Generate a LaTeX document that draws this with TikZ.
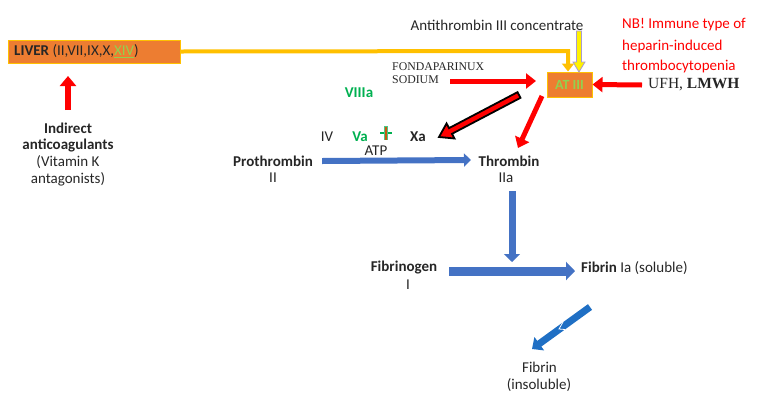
\documentclass[tikz,border=0pt]{standalone}
\usepackage{fontspec}
\setmainfont{Carlito}
\newfontfamily\tms{Liberation Serif}
\usetikzlibrary{arrows.meta,calc}
\definecolor{orng}{HTML}{ED7D31}
\definecolor{yel}{HTML}{FFC000}
\definecolor{grn}{HTML}{00B050}
\definecolor{lgrn}{HTML}{92D050}
\definecolor{blu}{HTML}{4472C4}
\definecolor{dblu}{HTML}{1F6FC4}
\definecolor{redd}{HTML}{FF0000}
\definecolor{lav}{HTML}{A99BD0}
\definecolor{brn}{HTML}{C55A11}
\tikzset{
  txt/.style={inner sep=0pt, font=\fontsize{15}{17}\selectfont, text=black!85},
  btxt/.style={txt, font=\fontsize{15}{17}\selectfont\bfseries},
  box/.style={draw=yel, fill=orng, line width=1pt, inner sep=0pt},
  redarrow/.style={draw=redd, line width=5pt, -{Triangle[length=10pt,width=15pt]}},
  bluarrow/.style={draw=blu, line width=7pt, -{Triangle[length=8pt,width=16pt]}},
}
\begin{document}
\begin{tikzpicture}[x=1pt,y=-1pt]
\useasboundingbox (0,0) rectangle (759,405);
% boxes
\node[box, minimum width=172pt, minimum height=23pt] (liver) at (94,51.5) {};
\node[txt, anchor=west] (livertxt) at (14,51.5) {\textbf{LIVER} (II,VII,IX,X,\textcolor{lgrn}{\underline{XIV}})};
\node[box, minimum width=45pt, minimum height=25pt, font=\fontsize{14}{16}\selectfont\bfseries, text=lgrn] (at) at (569.5,84.5) {AT III};
% texts
\node[txt] (atc) at (497,25) {Antithrombin III concentrate};
\node[txt, anchor=west, text=redd] (nb1) at (622,25) {NB! Immune type of};
\node[txt, anchor=west, text=redd] (nb2) at (622,46) {heparin-induced};
\node[txt, anchor=west, text=redd] (nb3) at (622,66) {thrombocytopenia};
\node[txt, anchor=west, font=\fontsize{15.5}{17}\tms] (ufh) at (648,85) {UFH, \textbf{LMWH}};
\node[txt, anchor=west, font=\fontsize{11.8}{13}\tms] (fon1) at (392,67) {FONDAPARINUX};
\node[txt, anchor=west, font=\fontsize{11.8}{13}\tms] (fon2) at (392,80) {SODIUM};
\node[btxt, text=grn] (viii) at (359,93) {VIIIa};
\node[txt] (iv) at (327,137) {IV};
\node[btxt, text=grn] (va) at (360,137) {Va};
\node[btxt] (xa) at (418,137) {Xa};
\node[txt] (atp) at (376,151) {ATP};
\node[btxt] (pro) at (273,161) {Prothrombin};
\node[txt] (ii) at (273,178) {II};
\node[btxt] (thr) at (509,161) {Thrombin};
\node[txt] (iia) at (506,178) {IIa};
\node[btxt] (fgen) at (404,268) {Fibrinogen};
\node[txt] (i) at (408,285) {I};
\node[txt, anchor=west] (fsol) at (581,268) {\textbf{Fibrin} Ia (soluble)};
\node[txt] (fins1) at (539.5,367) {Fibrin};
\node[txt] (fins2) at (539,385) {(insoluble)};
\node[btxt] (ind1) at (68,128) {Indirect};
\node[btxt] (ind2) at (68,145) {anticoagulants};
\node[txt] (ind3) at (68,162) {(Vitamin K};
\node[txt] (ind4) at (68,179) {antagonists)};
% plus sign
\draw[grn, line width=2pt] (380,133) -- (392,133);
\draw[grn!70, line width=4pt] (386,126) -- (386,140);
\draw[brn, line width=2pt] (386,126.5) -- (386,139.5);
% yellow connector
\coordinate (ycorner) at (568,51);
\draw[yel, line width=4pt, -{Triangle[length=8pt,width=12pt]}] (liver.east) -- (ycorner) -- (568,71.5);
% hollow yellow arrow
\coordinate (hb) at (579,72);
\draw[lav, fill=yellow, line width=0.8pt] (576.5,31) -- (581.5,31) -- (581.5,62) -- (585,62) -- (hb) -- (573,62) -- (576.5,62) -- cycle;
% red arrows
\draw[redarrow] (ufh.west) ++(-6,0) -- (at.east);
\coordinate (fonS) at (450,81);
\coordinate (fonE) at (536,81);
\draw[redarrow] (fonS) -- (fonE);
\coordinate (r2s) at (542,96);
\coordinate (r2e) at (518,148);
\draw[redarrow] (r2s) -- (r2e);
\coordinate (rvS) at (68,110);
\coordinate (rvE) at (68,76);
\draw[redarrow, line width=6pt, -{Triangle[length=10pt,width=16pt]}] (rvS) -- (rvE);
% black outlined arrow
\coordinate (ba) at (519,95);
\coordinate (bb) at (439,137);
\coordinate (bn) at ($(bb)!13pt!(ba)$);
\draw[black, fill=redd, line width=1.8pt, line join=miter]
  ($(ba)!3.2pt!90:(bb)$) -- ($(bn)!3.2pt!90:(bb)$) -- ($(bn)!8.5pt!90:(bb)$) -- (bb)
  -- ($(bn)!8.5pt!-90:(bb)$) -- ($(bn)!3.2pt!-90:(bb)$) -- ($(ba)!3.2pt!-90:(bb)$) -- cycle;
% blue arrows
\draw[bluarrow, line width=6pt, -{Triangle[length=7pt,width=13pt]}] (pro.east) ++(9,0) -- (471,160);
\coordinate (tdS) at (512,191);
\coordinate (tdE) at (512,262);
\draw[bluarrow] (tdS) -- (tdE);
\coordinate (fgS) at (449,271);
\coordinate (fgE) at (575,271);
\draw[bluarrow, line width=9pt, -{Triangle[length=9pt,width=18pt]}] (fgS) -- (fgE);
\coordinate (dgS) at (590,307);
\coordinate (dgE) at (532,349);
\draw[draw=dblu, line width=7pt, -{Triangle[length=9pt,width=16pt]}] (dgS) -- (dgE);
\draw[white, line width=0.8pt] (563,322) -- (559,329) -- (565,329.5);
\end{tikzpicture}
\end{document}
